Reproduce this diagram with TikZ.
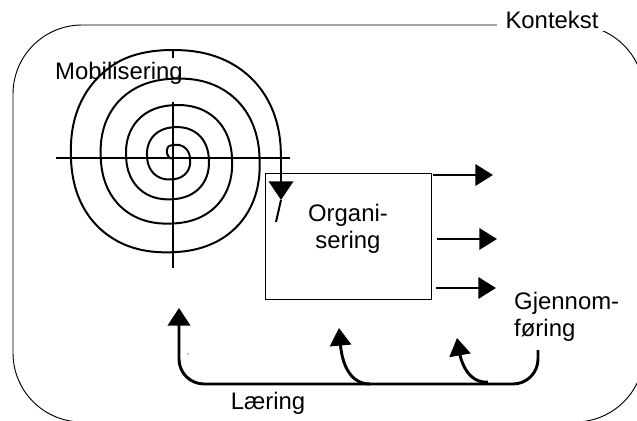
\documentclass[tikz,border=0pt]{standalone}
\usepackage{fontspec}
\setmainfont{Liberation Sans}
\usetikzlibrary{arrows.meta}

\tikzset{
  kframe/.style={draw, line width=0.8pt},
  txt/.style={font=\fontsize{20.4}{23}\selectfont, inner sep=0pt},
  axis/.style={line width=1.1pt},
  spiral/.style={line width=1.7pt},
  flow/.style={line width=2.5pt, -{Triangle[length=15pt,width=18pt]}},
  fback/.style={line width=2.5pt},
}

\begin{document}
\begin{tikzpicture}[x=0.03cm,y=-0.03cm,
    declare function={spturn(\t)=(\t-270)/360;
      sprad(\t)=min(1,(\t-150)/100)*min(108,13+15.5*spturn(\t)+2.2*spturn(\t)*spturn(\t));}]
    \useasboundingbox (0,0) rectangle (637,421);
    \clip (0,0) rectangle (637,421);
    % context frame
    \draw [kframe, rounded corners=2.07cm] (13,25) rectangle (644,422);
    \node [txt, fill=white, inner xsep=0.27cm, inner ysep=2pt] (ctx) at (552,20) {Kontekst};
    % mobilisation spiral
    \coordinate (c) at (173,158);
    \draw [axis] (56,158) -- (290,158);
    \draw [axis] (173,50) -- (173,58);
    \draw [axis] (173,102) -- (173,268);
    \begin{scope}[shift={(c)}]
    \coordinate (sp) at (108,24);
    \coordinate (spt) at (108,42);
    \coordinate (spe) at (103,64);
    \draw [spiral] plot [domain=150:1800, samples=300, smooth, variable=\t]
      ({sprad(\t)*cos(\t)/pow(abs(cos(\t))+0.0001,0.1)},
       {sprad(\t)*sin(\t)/pow(abs(sin(\t))+0.0001,0.1)}) -- (sp);
    \end{scope}
    \draw [spiral, -{Triangle[length=16pt,width=21pt]}] (sp) -- (spt);
    \draw [spiral] (spt) -- (spe);
    \node [txt] (mob) at (119,73) {Mobilisering};
    % organisation box
    \node [draw, line width=0.8pt, minimum width=4.98cm, minimum height=3.78cm, inner sep=0pt] (org) at (348,236) {};
    \node [txt, align=center] (orgtxt) at (348,229) {Organi-\\sering};
    % outputs
    \coordinate (o1s) at (433,175);
    \coordinate (o1e) at (493,175);
    \coordinate (o2s) at (437,239);
    \coordinate (o2e) at (497,239);
    \coordinate (o3s) at (436,288);
    \coordinate (o3e) at (496,288);
    \draw [flow] (o1s) -- (o1e);
    \draw [flow] (o2s) -- (o2e);
    \draw [flow] (o3s) -- (o3e);
    \node [txt, align=left, anchor=west] (gj) at (514,317) {Gjennom-\\føring};
    % learning loop
    \coordinate (gjb) at (538,350);
    \coordinate (mobu) at (179,308);
    \draw [fback, rounded corners=0.75cm, -{Triangle[length=15pt,width=19pt]}] (gjb) -- (538,384) -- (179,384) -- (mobu);
    \coordinate (b1s) at (370,384);
    \coordinate (b1e) at (339,328);
    \coordinate (b2s) at (488,382);
    \coordinate (b2e) at (457,338);
    \draw [flow] (b1s) to[out=180,in=-85] (b1e);
    \draw [flow] (b2s) to[out=185,in=-80] (b2e);
    \node [txt] (laer) at (268,403) {Læring};
    \fill (188,354) circle (0.7);
\end{tikzpicture}
\end{document}
